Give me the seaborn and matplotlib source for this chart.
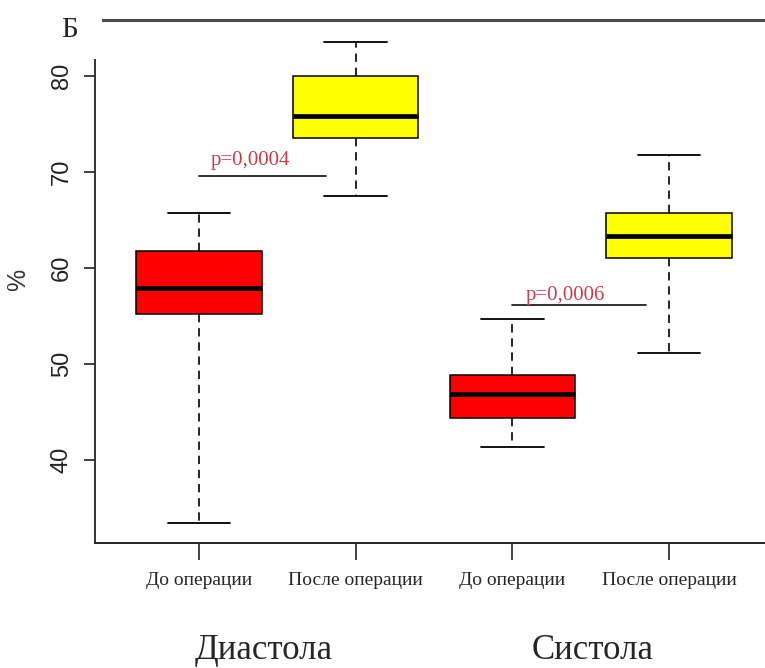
import numpy as np
import pandas as pd
import matplotlib
matplotlib.use("Agg")
import matplotlib.pyplot as plt
import matplotlib.transforms as mtrans
import seaborn as sns

# ---- data (five-number summaries) ----
categories = ["dia_pre", "dia_post", "sys_pre", "sys_post"]
tick_labels = ["До операции", "После операции", "До операции", "После операции"]
dia_pre = [33.4, 55.2, 57.9, 61.8, 65.7]
dia_post = [67.5, 73.5, 75.8, 80.0, 83.5]
sys_pre = [41.35, 44.4, 46.9, 48.85, 54.7]
sys_post = [51.15, 61.0, 63.3, 65.7, 71.8]
group_labels = ["Диастола", "Систола"]
p_labels = ["p=0,0004", "p=0,0006"]
p_levels = [69.58, 56.15]
box_colors = ["#FF0000", "#FFFF00", "#FF0000", "#FFFF00"]
y_ticks = [40, 50, 60, 70, 80]

values = [dia_pre, dia_post, sys_pre, sys_post]
df = pd.DataFrame({
    "cat": np.repeat(categories, [len(v) for v in values]),
    "val": np.concatenate(values),
})

sns.set_style("white")
plt.rcParams["font.family"] = ["Liberation Serif", "DejaVu Serif"]

fig = plt.figure(figsize=(7.65, 6.68), dpi=100)
ax = fig.add_axes([95 / 765, 125 / 668, 670 / 765, 523 / 668])

sns.boxplot(
    data=df, x="cat", y="val", hue="cat", order=categories, hue_order=categories,
    palette=box_colors, saturation=1, whis=(0, 100), width=0.8, dodge=False,
    legend=False, linecolor="black", linewidth=1.1, ax=ax,
    medianprops={"color": "black", "linewidth": 3.4},
    whiskerprops={"color": "black", "linewidth": 1.2, "linestyle": (0, (5, 3.5))},
    capprops={"color": "black", "linewidth": 1.3},
)

ax.set_xlim(-0.664, 3.612)
ax.set_ylim(31.35, 85.83)

# spines
ax.spines["right"].set_visible(False)
ax.spines["left"].set_bounds(31.35, 81.67)
ax.spines["left"].set_color("#333333")
ax.spines["left"].set_linewidth(1.4)
ax.spines["bottom"].set_color("#222222")
ax.spines["bottom"].set_linewidth(1.4)
ax.spines["top"].set_bounds(-0.613, 3.612)
ax.spines["top"].set_color("#4a4a4a")
ax.spines["top"].set_linewidth(2.2)

# ticks
ax.set_yticks(y_ticks)
ax.set_yticklabels([str(t) for t in y_ticks], rotation=90, va="center",
                   family=["Liberation Sans", "DejaVu Sans"], fontsize=17, color="#222222")
ax.tick_params(axis="y", left=True, length=8, width=1.3, pad=8, color="#333333")
ax.set_xticks(range(len(categories)))
ax.set_xticklabels(tick_labels, fontsize=14)
ax.tick_params(axis="x", bottom=True, length=12, width=1.2, pad=9, color="#222222")
ax.set_xlabel("")
ax.set_ylabel("%", family=["Liberation Sans", "DejaVu Sans"], fontsize=18,
              color="#333333", rotation=90, va="center")
ax.yaxis.set_label_coords(-77 / 670, (543 - 280) / 523)

# p-value annotations
p_color = "#C83C50"
ax.plot([0, 0.81], [p_levels[0], p_levels[0]], color="#222222", lw=1.3)
ax.plot([2, 2.85], [p_levels[1], p_levels[1]], color="#222222", lw=1.3)
ax.text(0.077, p_levels[0] + 1.1, p_labels[0], color=p_color, fontsize=15, va="baseline")
ax.text(2.087, p_levels[1] + 0.55, p_labels[1], color=p_color, fontsize=15, va="baseline")

# group labels
tr = mtrans.blended_transform_factory(ax.transData, fig.transFigure)
ax.text(0.41, 9 / 668, group_labels[0], transform=tr, ha="center", va="baseline",
        fontsize=25, clip_on=False)
ax.text(2.51, 9 / 668, group_labels[1], transform=tr, ha="center", va="baseline",
        fontsize=25, clip_on=False)

fig.text(61 / 765, 1 - 37 / 668, "Б", fontsize=21, va="baseline", ha="left")

fig.savefig("out.png", dpi=100)
